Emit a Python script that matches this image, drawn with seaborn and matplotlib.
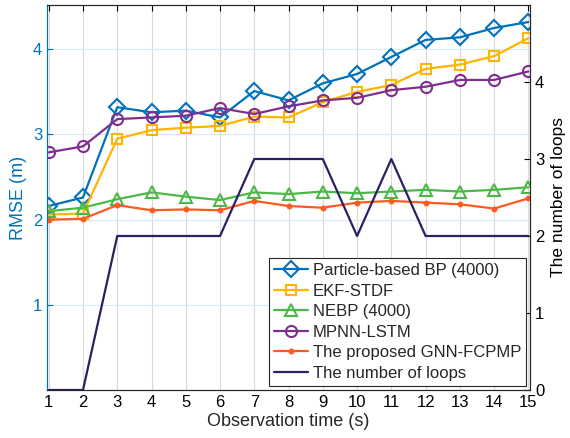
import matplotlib
matplotlib.use("Agg")
import matplotlib.pyplot as plt
import seaborn as sns
import numpy as np

sns.set_style("white")
plt.rcParams['font.family'] = ['Liberation Sans', 'DejaVu Sans']

time_s = list(range(1, 16))
bp_4000 = [2.16, 2.26, 3.32, 3.26, 3.28, 3.20, 3.51, 3.40, 3.60, 3.71, 3.91, 4.11, 4.14, 4.25, 4.32]
ekf_stdf = [2.06, 2.07, 2.95, 3.05, 3.08, 3.10, 3.21, 3.20, 3.38, 3.50, 3.58, 3.77, 3.82, 3.92, 4.13]
nebp_4000 = [2.10, 2.14, 2.24, 2.32, 2.27, 2.23, 2.32, 2.30, 2.33, 2.31, 2.33, 2.35, 2.33, 2.35, 2.38]
mpnn_lstm = [2.79, 2.86, 3.18, 3.20, 3.22, 3.31, 3.24, 3.33, 3.40, 3.43, 3.52, 3.56, 3.64, 3.64, 3.74]
gnn_fcpmp = [2.00, 2.01, 2.17, 2.11, 2.12, 2.11, 2.22, 2.16, 2.14, 2.20, 2.22, 2.20, 2.18, 2.13, 2.25]
num_loops = [0, 0, 2, 2, 2, 2, 3, 3, 3, 2, 3, 2, 2, 2, 2]

C_BLUE = '#0072BD'
C_YEL = '#FFB400'
C_GRN = '#4DB848'
C_PUR = '#7E2F8E'
C_ORG = '#FF5A1F'
C_NAVY = '#2E1F63'

fig = plt.figure(figsize=(5.7, 4.38), dpi=100)
ax = fig.add_axes([0.0825, 0.1096, 0.8475, 0.879])
ax2 = ax.twinx()

lw = 1.6
sns.lineplot(x=time_s, y=bp_4000, ax=ax, color=C_BLUE, marker='D', markersize=8.5,
             markerfacecolor='none', markeredgecolor=C_BLUE, markeredgewidth=1.5,
             linewidth=lw, label='Particle-based BP (4000)')
sns.lineplot(x=time_s, y=ekf_stdf, ax=ax, color=C_YEL, marker='s', markersize=7,
             markerfacecolor='none', markeredgecolor=C_YEL, markeredgewidth=1.5,
             linewidth=lw, label='EKF-STDF')
sns.lineplot(x=time_s, y=nebp_4000, ax=ax, color=C_GRN, marker='^', markersize=9,
             markerfacecolor='none', markeredgecolor=C_GRN, markeredgewidth=1.5,
             linewidth=lw, label='NEBP (4000)')
sns.lineplot(x=time_s, y=mpnn_lstm, ax=ax, color=C_PUR, marker='o', markersize=8,
             markerfacecolor='none', markeredgecolor=C_PUR, markeredgewidth=1.5,
             linewidth=lw, label='MPNN-LSTM')
sns.lineplot(x=time_s, y=gnn_fcpmp, ax=ax, color=C_ORG, marker='o', markersize=3.5,
             markerfacecolor=C_ORG, markeredgecolor=C_ORG,
             linewidth=lw, label='The proposed GNN-FCPMP')
sns.lineplot(x=time_s, y=num_loops, ax=ax2, color=C_NAVY, linewidth=lw,
             label='The number of loops')

ax.set_xlim(0.95, 15.05)
ax.set_ylim(0, 4.52)
ax2.set_ylim(0, 5.0)
ax.set_xticks(time_s)
ax.set_yticks([1, 2, 3, 4])
ax2.set_yticks([0, 1, 2, 3, 4])

ax.grid(axis='x', color='#dadada', linewidth=0.8)
ax.grid(axis='y', color='#d8e8f4', linewidth=0.8)
ax.set_axisbelow(True)

ax.tick_params(axis='x', direction='in', top=True, labelsize=12, colors='black', length=4)
ax.tick_params(axis='y', direction='in', labelsize=12, colors=C_BLUE, length=4)
ax2.tick_params(axis='y', direction='in', labelsize=12, colors='black', length=4)

for s in ['top', 'bottom']:
    ax.spines[s].set_color('#262626')
ax.spines['left'].set_color(C_BLUE)
ax2.spines['left'].set_color(C_BLUE)
ax2.spines['right'].set_color('#262626')
ax2.spines['top'].set_color('#262626')
ax2.spines['bottom'].set_color('#262626')

ax.set_xlabel('Observation time (s)', fontsize=13, labelpad=2)
ax.set_ylabel('RMSE (m)', fontsize=13, color=C_BLUE, labelpad=4)
ax2.set_ylabel('The number of loops', fontsize=12.5, color='black', labelpad=5)

h1, l1 = ax.get_legend_handles_labels()
h2, l2 = ax2.get_legend_handles_labels()
if ax.get_legend():
    ax.get_legend().remove()
if ax2.get_legend():
    ax2.get_legend().remove()
leg = ax2.legend(h1 + h2, l1 + l2, loc='lower right', fontsize=12, frameon=True,
                 fancybox=False, edgecolor='#262626', framealpha=1,
                 borderpad=0.3, labelspacing=0.33, handlelength=2.0, handletextpad=0.3,
                 borderaxespad=0.25)
leg.get_frame().set_linewidth(0.8)

fig.savefig('out.png', dpi=100)
